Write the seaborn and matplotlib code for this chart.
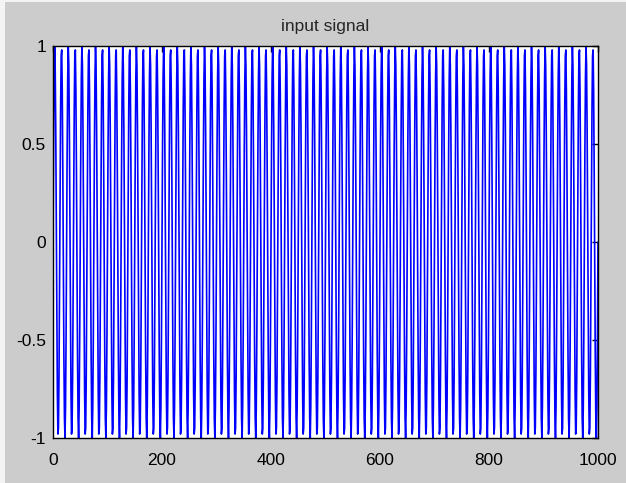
import numpy as np
import pandas as pd
import matplotlib
matplotlib.use("Agg")
import matplotlib.pyplot as plt
from matplotlib.patches import Rectangle
import seaborn as sns

# One period (25 samples) of the input signal
period_values = [0.0, 0.48, 0.84, 1.0, 0.9, 0.59, 0.13, -0.37, -0.77, -0.98,
                 -0.95, -0.69, -0.25, 0.25, 0.69, 0.95, 0.98, 0.77, 0.37,
                 -0.13, -0.59, -0.9, -1.0, -0.84, -0.48]
n_samples = 1001
x_ticks = [0, 200, 400, 600, 800, 1000]
y_ticks = [-1, -0.5, 0, 0.5, 1]
y_tick_labels = ["-1", "-0.5", "0", "0.5", "1"]
title_text = "input signal"

signal = np.resize(np.array(period_values), n_samples)
df = pd.DataFrame({"n": np.arange(n_samples), "x": signal})

sns.set_style("white")
plt.rcParams["font.family"] = ["Liberation Sans", "DejaVu Sans"]

W, H = 626, 483
fig = plt.figure(figsize=(W/100, H/100), dpi=100, facecolor="#cccccc")
# screenshot border strips
fig.patches.append(Rectangle((0, 0), 5/W, 1, transform=fig.transFigure,
                             facecolor="#f4f4f4", edgecolor="none", zorder=-1))
fig.patches.append(Rectangle((0, 1-2/H), 1, 2/H, transform=fig.transFigure,
                             facecolor="#f4f4f4", edgecolor="none", zorder=-1))

ax = fig.add_axes([53/W, 1-438/H, 545/W, 392/H])
sns.lineplot(data=df, x="n", y="x", ax=ax, color="#0000ff", linewidth=1.2,
             antialiased=True, sort=False, estimator=None)
ax.set_xlim(0, 1000)
ax.set_ylim(-1, 1)
ax.set_xticks(x_ticks)
ax.set_xticklabels([str(t) for t in x_ticks])
ax.set_yticks(y_ticks)
ax.set_yticklabels(y_tick_labels)
ax.set_xlabel("")
ax.set_ylabel("")
ax.tick_params(direction="in", length=4, width=1, top=True, right=True,
               labelsize=12.5, colors="black")
ax.tick_params(axis="x", pad=11)
ax.tick_params(axis="y", pad=5)
for s in ax.spines.values():
    s.set_color("black")
    s.set_linewidth(1.0)
    s.set_visible(True)
ax.set_title(title_text, fontsize=12.5, pad=11)
fig.savefig("out.png", dpi=100, facecolor=fig.get_facecolor())
